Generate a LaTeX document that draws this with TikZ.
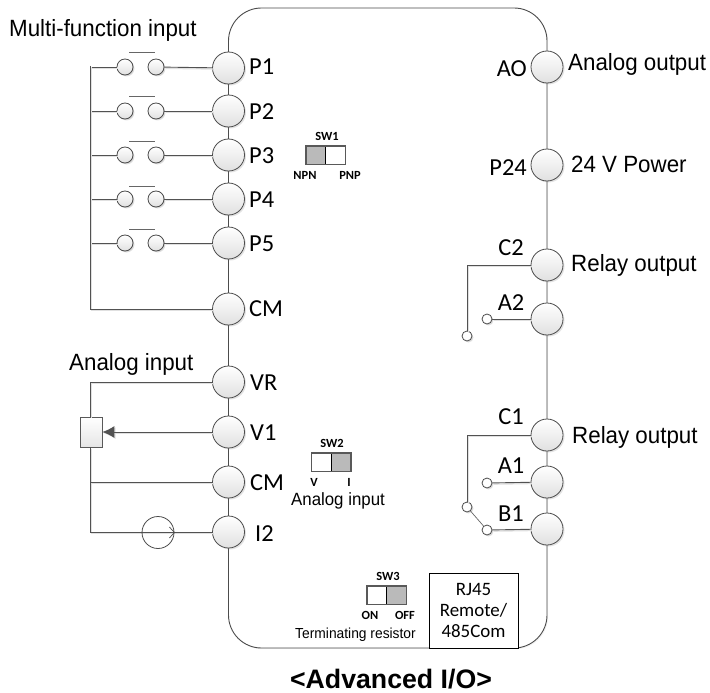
\documentclass[tikz,border=0pt]{standalone}
\usepackage{fontspec}
\setmainfont{Liberation Sans}
\newfontfamily\calfont{Carlito}
\newfontfamily\tightfont[FakeStretch=0.95]{Liberation Sans}
\usetikzlibrary{shadows,arrows.meta}
\tikzset{
  x=1bp,y=-1bp,
  wire/.style={draw=black!68,line width=0.9bp,
    preaction={draw=black!12,line width=1.4bp,transform canvas={xshift=1.2bp,yshift=-1.2bp}}},
  term/.style={circle,draw=black!70,line width=0.8bp,minimum size=32bp,inner sep=0pt,
    top color=white,bottom color=black!12,
    drop shadow={opacity=.22,shadow xshift=1.5bp,shadow yshift=-1.5bp}},
  contact/.style={term,minimum size=16bp,drop shadow={opacity=.15,shadow xshift=1bp,shadow yshift=-1bp}},
  tiny/.style={term,minimum size=10bp,fill=white,top color=white,bottom color=white,drop shadow={opacity=.12,shadow xshift=1bp,shadow yshift=-1bp}},
  tlabel/.style={inner sep=0pt,font=\calfont\fontsize{24.5}{26}\selectfont},
  side/.style={inner sep=0pt,font=\tightfont\fontsize{23.6}{25}\selectfont},
  swlabel/.style={inner sep=0pt,font=\calfont\bfseries\fontsize{12.5}{13}\selectfont},
  swhalf/.style={draw=black,line width=0.7bp,minimum width=19.5bp,minimum height=18bp,inner sep=0pt},
  swframe/.style={draw=black!65,line width=1.7bp},
  bar/.style={draw=black!60,line width=0.9bp},
  >={Latex[length=12bp,width=12bp]}
}
\begin{document}
\begin{tikzpicture}
\useasboundingbox (0,0) rectangle (710,693);
% board
\node[draw=black!70,line width=0.9bp,rounded corners=33bp,minimum width=318.5bp,minimum height=640bp,inner sep=0pt,
  drop shadow={opacity=.10,shadow xshift=1.2bp,shadow yshift=-1.2bp},fill=white] (board) at (387.75,328) {};
% RJ45
\node[draw=black,line width=0.8bp,fill=white,minimum width=89bp,minimum height=75bp,inner sep=0pt,align=center,
  font=\calfont\fontsize{19}{21.5}\selectfont] (rj) at (473.5,610.5) {RJ45\\Remote/\\485Com};
% left terminals
\foreach \n/\y in {P1/68,P2/111,P3/155,P4/199,P5/243,CMa/309,VR/382,V1/432,CMb/482,I2/532}
  \node[term] (\n) at (228.5,\y) {};
% right terminals
\foreach \n/\y in {AO/67,P24/165,C2/265,A2/319,C1/435,A1/482,B1/529}
  \node[term] (\n) at (547,\y) {};
% multi-function contacts
\coordinate (busT) at (90.5,66);
\coordinate (busB) at (90.5,309);
\foreach \n/\y/\b in {P1/67/52,P2/111/96,P3/155/141,P4/199/186,P5/243/229}{
  \node[contact] (\n L) at (125,\y) {};
  \node[contact] (\n R) at (156,\y) {};
  \coordinate (\n B) at (90.5,\y);
  \coordinate (\n Ba) at (129,\b);
  \coordinate (\n Bb) at (155,\b);
  \draw[wire] (\n B) -- (\n L);
  \draw[wire] (\n R) -- (\n);
  \draw[bar] (\n Ba) -- (\n Bb);
}
\draw[wire] (busT) -- (busB) -- (CMa);
% analog input
\node[draw=black!65,line width=0.8bp,minimum width=22bp,minimum height=30bp,inner sep=0pt,top color=white,bottom color=black!10,
  drop shadow={opacity=.18,shadow xshift=1.2bp,shadow yshift=-1.2bp}] (pot) at (91,432) {};
\coordinate (vrc) at (90.5,382);
\coordinate (cmc) at (90.5,482);
\coordinate (i2c) at (90.5,532);
\draw[wire] (VR) -- (vrc) -- (pot.north -| vrc);
\draw[wire] (pot.south -| i2c) -- (i2c) -- (I2);
\draw[wire] (cmc) -- (CMb);
\draw[wire,->] (V1) -- (pot.east);
\node[circle,draw=black!70,line width=0.8bp,minimum size=32bp,inner sep=0pt] (cs) at (158,532.5) {};
\draw[draw=black!70,line width=0.7bp] ([shift={(-5,-5.5)}]cs.east) -- (cs.east) -- ([shift={(-5,5.5)}]cs.east);
% relay contacts
\node[tiny] (c2o) at (467,336) {};
\node[tiny] (a2o) at (487,319) {};
\node[tiny] (c1o) at (467,507) {};
\node[tiny] (a1o) at (487,483) {};
\node[tiny] (b1o) at (487,530) {};
\draw[wire] (C2) -| (c2o);
\draw[wire] (a2o) -- (A2);
\draw[wire] (C1) -| (c1o);
\draw[wire] (a1o) -- (A1);
\draw[wire] (b1o) -- (B1);
\draw[draw=black!60,line width=0.7bp] (c1o) -- (b1o);
% terminal labels
\foreach \n/\t/\x/\y in {lP1/P1/249/67,lP2/P2/249/112,lP3/P3/249/156,lP4/P4/249/200,lP5/P5/249/244,lCMa/CM/249/309,lVR/VR/250/383,lV1/V1/250/433,lCMb/CM/250/483,lI2/I2/255/534}
  \node[tlabel,anchor=west] (\n) at (\x,\y) {\t};
\foreach \n/\t/\x/\y in {lAO/AO/527/69,lP24/P24/527/168}
  \node[tlabel,anchor=east] (\n) at (\x,\y) {\t};
\foreach \n/\t/\y in {lC2/C2/248,lA2/A2/303,lC1/C1/417,lA1/A1/466,lB1/B1/514}
  \node[tlabel] (\n) at (511,\y) {\t};
% side labels
\node[side,anchor=west] (mfi) at (9,30) {Multi-function input};
\node[side,anchor=west] (ai) at (69,364) {Analog input};
\node[side,anchor=west] (aout) at (568,64) {Analog output};
\node[side,anchor=west] (pw) at (571,164) {24 V Power};
\node[side,anchor=west] (ro2) at (571,265) {Relay output};
\node[side,anchor=west] (ro1) at (572,437) {Relay output};
% SW1
\node[swhalf,fill=black!27] (sw1a) at (316,155) {};
\node[swhalf,fill=white] (sw1b) at (335.5,155) {};
\draw[swframe] (sw1a.north west) rectangle (sw1b.south east);
\node[swlabel] (sw1) at (327,136) {SW1};
\node[swlabel] (npn) at (305,175) {NPN};
\node[swlabel] (pnp) at (350,175) {PNP};
% SW2
\node[swhalf,fill=white] (sw2a) at (321.5,462) {};
\node[swhalf,fill=black!27] (sw2b) at (341,462) {};
\draw[swframe] (sw2a.north west) rectangle (sw2b.south east);
\node[swlabel] (sw2) at (332,443) {SW2};
\node[swlabel] (vv) at (314,482) {V};
\node[swlabel] (ii) at (349,482) {I};
\node[inner sep=0pt,font=\tightfont\fontsize{17.8}{19}\selectfont] (ai2) at (338,501) {Analog input};
% SW3
\node[swhalf,fill=white] (sw3a) at (377,595) {};
\node[swhalf,fill=black!27] (sw3b) at (396.5,595) {};
\draw[swframe] (sw3a.north west) rectangle (sw3b.south east);
\node[swlabel] (sw3) at (388,576) {SW3};
\node[swlabel] (on) at (370,615) {ON};
\node[swlabel] (off) at (405,615) {OFF};
\node[inner sep=0pt,font=\tightfont\fontsize{14.6}{16}\selectfont] (tr) at (355.5,635) {Terminating resistor};
% title
\node[inner sep=0pt,font=\bfseries\fontsize{26.8}{28}\selectfont] (title) at (391,679) {<Advanced I/O>};
\end{tikzpicture}
\end{document}
